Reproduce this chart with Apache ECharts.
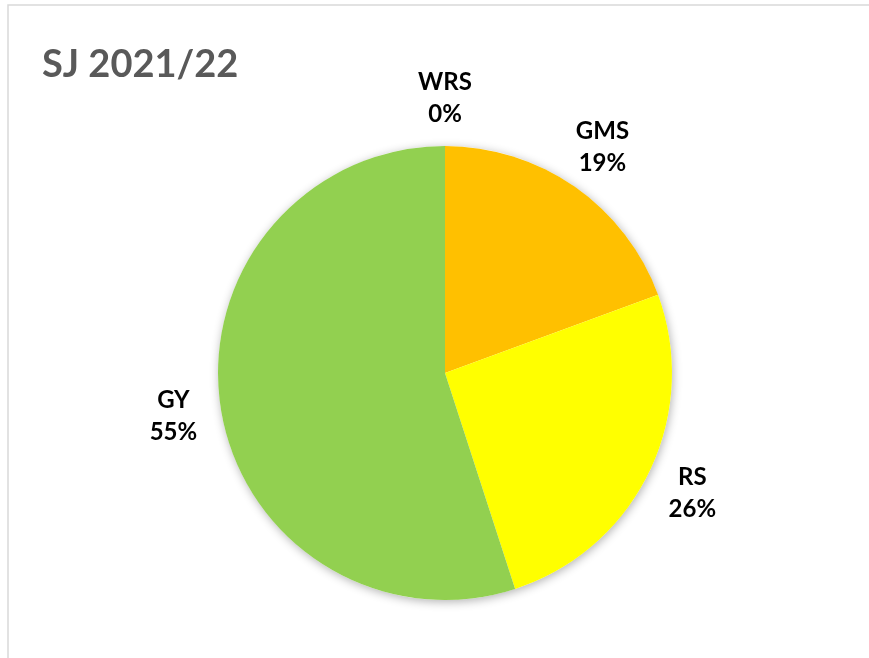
<!DOCTYPE html>
<html>
<head>
<meta charset="utf-8">
<script src="https://cdn.jsdelivr.net/npm/echarts@6/dist/echarts.min.js"></script>
<style>
  html, body { margin: 0; padding: 0; background: #fff; }
  #chart { width: 869px; height: 658px; }
</style>
</head>
<body>
<div id="chart"></div>
<script>
// categories in drawing order, clockwise from 12 o'clock
const categories = ['WRS', 'GMS', 'RS', 'GY']
const shares = [0, 19.4, 25.6, 55.0]
const sliceColors = ['#70AD47', '#FFC000', '#FFFF00', '#92D050']
const titleText = 'SJ 2021/22'

const pieCenter = [445, 373]
const pieRadius = 227

const slices = categories.map((name, i) => ({
    name: name,
    value: shares[i],
    itemStyle: { color: sliceColors[i] }
}))
const total = shares.reduce((a, b) => a + b, 0)

const chart = echarts.init(document.getElementById('chart'))
chart.setOption({
    animation: false,
    title: {
        text: titleText,
        left: 42,
        top: 46,
        padding: 0,
        textStyle: {
            fontFamily: 'Lato',
            fontWeight: 'bold',
            fontSize: 38,
            color: '#595959'
        }
    },
    graphic: [{
        type: 'rect',
        shape: { x: 8, y: 5, width: 1000, height: 1000 },
        style: { fill: 'none', stroke: '#d9d9d9', lineWidth: 1.5 },
        silent: true
    }],
    series: [
        {
            // soft shadow under the whole pie
            type: 'pie',
            silent: true,
            z: 1,
            center: pieCenter,
            radius: pieRadius,
            label: { show: false },
            labelLine: { show: false },
            itemStyle: {
                color: '#ffffff',
                borderWidth: 0,
                shadowBlur: 10,
                shadowOffsetX: 1,
                shadowOffsetY: 2,
                shadowColor: 'rgba(0,0,0,0.3)'
            },
            data: [{ name: 'all', value: total }]
        },
        {
            type: 'pie',
            z: 2,
            center: pieCenter,
            radius: pieRadius,
            startAngle: 90,
            clockwise: true,
            label: { show: false },
            labelLine: { show: false },
            itemStyle: { borderWidth: 0 },
            data: slices
        },
        {
            // invisible ring carrying the data labels outside the pie
            type: 'pie',
            silent: true,
            z: 3,
            center: pieCenter,
            radius: [262, 282],
            startAngle: 90,
            clockwise: true,
            percentPrecision: 0,
            itemStyle: { color: 'transparent', borderWidth: 0 },
            labelLine: { show: false },
            label: {
                show: true,
                position: 'inside',
                formatter: '{b}\n{d}%',
                fontFamily: 'Lato',
                fontWeight: 'bold',
                fontSize: 24,
                lineHeight: 32,
                color: '#000000'
            },
            data: categories.map((name, i) => ({ name: name, value: shares[i] }))
        }
    ]
})
</script>
</body>
</html>
